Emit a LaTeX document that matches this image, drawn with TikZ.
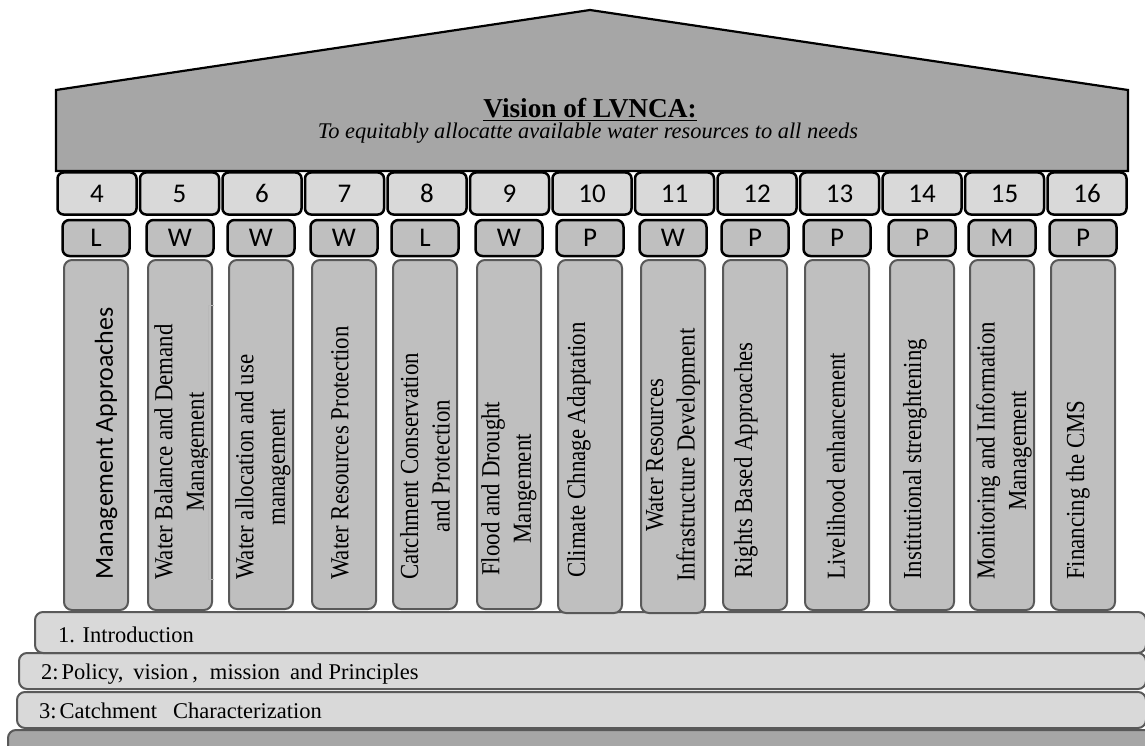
\documentclass[tikz,border=0pt]{standalone}
\usepackage{fontspec}
\setmainfont{Liberation Serif}
\newfontfamily\calib{Carlito}
\newfontfamily\condserif[FakeStretch=0.88]{Liberation Serif}
\definecolor{roofgray}{HTML}{A6A6A6}
\definecolor{lgray}{HTML}{D9D9D9}
\definecolor{mgray}{HTML}{BFBFBF}
\definecolor{egray}{HTML}{595959}
\tikzset{
  roofshape/.style={draw=black, line width=2.2pt, fill=roofgray, line join=miter},
  numbox/.style={draw=black, line width=2.5pt, fill=lgray, rounded corners=6pt,
    minimum width=79pt, minimum height=42pt, inner sep=0pt,
    font=\calib\fontsize{27}{30}\selectfont},
  letbox/.style={draw=black, line width=2.5pt, fill=mgray, rounded corners=7pt,
    minimum width=67pt, minimum height=36pt, inner sep=0pt,
    font=\calib\fontsize{27}{30}\selectfont},
  pillar/.style={draw=egray, line width=2pt, fill=mgray, rounded corners=8pt,
    minimum width=64pt, inner sep=0pt},
  ptext/.style={rotate=90, anchor=west, inner sep=0pt, align=center,
    font=\condserif\fontsize{26}{31.5}\selectfont},
  stepbox/.style={draw=egray, line width=2pt, fill=lgray, rounded corners=8pt},
  basebox/.style={draw=egray, line width=2pt, fill=roofgray, rounded corners=8pt},
  steptext/.style={anchor=base west, inner sep=0pt, font=\fontsize{22.5}{26}\selectfont},
}
\begin{document}
\begin{tikzpicture}[x=1pt,y=-1pt]
\useasboundingbox (0,0) rectangle (1145,746);
\clip (0,0) rectangle (1145,746);
% roof
\draw[roofshape] (56,171) -- (56,90) -- (590,10) -- (1128,90) -- (1128,171) -- cycle;
\node[anchor=base, inner sep=0pt, font=\bfseries\fontsize{27.3}{30}\selectfont] (vision) at (590,118) {\underline{Vision of LVNCA:}};
\node[anchor=base, inner sep=0pt, font=\itshape\fontsize{22.4}{25}\selectfont] (visiontext) at (588,139) {To equitably allocatte available water resources to all needs};
% number boxes
\foreach \n [count=\i from 0] in {4,...,16}
  \node[numbox] (num\n) at ({97+82.5*\i},193.5) {\n};
% steps
\draw[basebox] (8,780) rectangle (1160,730);
\draw[stepbox] (17,728) rectangle (1146,692);
\draw[stepbox] (19,689) rectangle (1146,653);
\draw[stepbox] (35,653) rectangle (1146,612);
\node[steptext] (s1) at (58,642) {1. Introduction};
\node[steptext] (s2) at (41,679) {2:\hspace{3pt}Policy,\hspace{10pt}vision\hspace{4pt},\hspace{12pt}mission\hspace{10pt}and\hspace{6pt}Principles};
\node[steptext] (s3) at (39,718) {3:\hspace{3pt}Catchment\hspace{16pt}Characterization};
% letter boxes and pillars
\foreach \n/\c/\l/\b in {4/96/L/610, 5/180/W/610, 6/261/W/609, 7/344/W/609, 8/425/L/609,
  9/509/W/609, 10/590/P/613, 11/673/W/613, 12/755/P/610, 13/837/P/610, 14/922/P/610,
  15/1002/M/610, 16/1083/P/610}
{
  \node[letbox] (let\n) at (\c,238) {\l};
  \node[pillar, minimum height={(\b-260)*1pt}] (pil\n) at (\c,{(\b+260)/2}) {};
}
% pillar texts
\node[ptext, font=\calib\fontsize{26}{31}\selectfont] (t4) at (106,580) {Management Approaches};
\node[ptext] (t5) at (182,580) {Water Balance and Demand\\Management};
\node[ptext] (t6) at (263,580) {Water allocation and use\\management};
\node[ptext] (t7) at (340,580) {Water Resources Protection};
\node[ptext] (t8) at (425,580) {Catchment Conservation\\and Protection};
\node[ptext] (t9) at (509,576) {Flood and Drought\\Mangement};
\node[ptext] (t10) at (579,578) {Climate Chnage Adaptation};
\node[ptext] (t11) at (673,582) {Water Resources\\Infrastructure Development};
\node[ptext] (t12) at (746,579) {Rights Based Approaches};
\node[ptext] (t13) at (836,580) {Livelihood enhancement};
\node[ptext] (t14) at (915,580) {Institutional strenghtening};
\node[ptext] (t15) at (1004,580) {Monitoring and Information\\Management};
\node[ptext] (t16) at (1078,580) {Financing the CMS};
% thin bracket artifact beside pillar 5
\draw[gray!55, line width=1pt] (214,305) -- (208.5,305) -- (208.5,579) -- (214,579);
\end{tikzpicture}
\end{document}
